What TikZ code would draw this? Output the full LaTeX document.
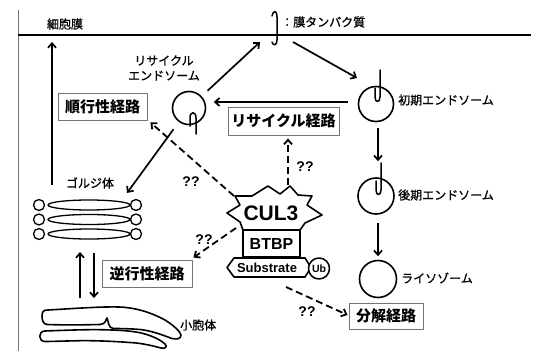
\documentclass[tikz,border=0pt]{standalone}
\usepackage{fontspec}
\newfontfamily\jp{Noto Sans CJK JP}
\newfontfamily\jpm[FakeBold=1]{Noto Sans CJK JP}
\newfontfamily\lat{Liberation Sans}
\usetikzlibrary{arrows.meta}
\begin{document}
\begin{tikzpicture}[x=1pt,y=-1pt,line join=round,
  arr/.style={line width=1.7pt,-{Straight Barb[length=4.5pt,width=8pt]}},
  darr/.style={arr,line width=1.8pt,dash pattern=on 7pt off 4pt},
  organelle/.style={circle,draw,line width=1.6pt,inner sep=0pt},
  prot/.style={line width=1.5pt,line cap=round},
  outline/.style={line width=1.6pt},
  pathbox/.style={draw=black!55,line width=0.9pt,fill=white,inner sep=0pt,
    font=\jp\bfseries\fontsize{15}{15}\selectfont},
  lbl/.style={font=\jpm\fontsize{12}{15}\selectfont,inner sep=0pt},
  qq/.style={font=\lat\bfseries\fontsize{14}{14}\selectfont,inner sep=0pt},
  latin/.style={font=\lat\bfseries\fontsize{#1}{#1}\selectfont,inner sep=0pt},
]
\useasboundingbox (0,0) rectangle (536,351);

% cell membrane
\draw[black!55,line width=0.6pt] (18,10) -- (18,351);
\draw[line width=1.7pt] (18,35) -- (531,35);
\node[lbl] (pm) at (65,24) {細胞膜};

% membrane protein and legend
\draw[prot] (272,16) .. controls (273,10) and (277,10) .. (277,17) -- (277,40)
  .. controls (277,46) and (273,46) .. (272,42);
\node[lbl,anchor=west] (mpl) at (281,22) {：膜タンパク質};

% endosomes and lysosome
\node[organelle,minimum size=33pt] (re) at (189,108) {};
\node[organelle,minimum size=35pt] (ee) at (376,104) {};
\node[organelle,minimum size=36pt] (le) at (376,196) {};
\node[organelle,minimum size=37pt] (ly) at (378,279) {};

\draw[prot] (196,134) -- (196,118) .. controls (196,111) and (190,111) .. (190,118) -- (190,126);
\draw[prot] (380,70) -- (380,97) .. controls (380,103) and (375,103) .. (375,97) -- (375,88);
\draw[prot] (381,163) -- (381,190) .. controls (381,196) and (376,196) .. (376,190) -- (376,181);

\node[lbl,align=center] (rel) at (164,68) {リサイクル\\エンドソーム};
\node[lbl,anchor=west] (eel) at (398,100) {初期エンドソーム};
\node[lbl,anchor=west] (lel) at (398,195) {後期エンドソーム};
\node[lbl,anchor=west] (lyl) at (401,278) {ライソゾーム};

% Golgi stack
\foreach \yy in {205,219.5,234}{
  \draw[line width=1.3pt] (89,\yy) ellipse [x radius=41pt,y radius=5pt];
  \draw[line width=1.3pt] (39,\yy) circle [radius=5.5pt];
  \draw[line width=1.3pt] (136,\yy) circle [radius=5.5pt];
}
\node[lbl] (gol) at (90,183) {ゴルジ体};

% endoplasmic reticulum: upper cisterna split by a slit, lower cisterna whole
\draw[outline] (42,316) .. controls (42,311) and (44,310) .. (48,310)
  .. controls (75,308.5) and (100,306.5) .. (119,307)
  .. controls (135,307.5) and (150,312) .. (165,320)
  .. controls (173,325) and (180,331) .. (181,335)
  .. controls (181,339) and (177,339.5) .. (172,338.5)
  .. controls (160,334) and (150,330.5) .. (140,329.5)
  .. controls (128,328.5) and (118,328.5) .. (113,328.5)
  .. controls (108,328.5) and (108,318.5) .. (107,318)
  .. controls (106,318.5) and (106,324.5) .. (100,324.5)
  .. controls (80,325) and (60,325) .. (47,324.5)
  .. controls (43,324) and (42,320) .. (42,316) -- cycle;
\draw[outline] (45,331) .. controls (70,330) and (90,329.5) .. (100,329.7)
  .. controls (120,330) and (135,331) .. (145,334)
  .. controls (155,337) and (162,341) .. (165,344)
  .. controls (168,347) and (165,349) .. (161,348)
  .. controls (150,345) and (140,343) .. (130,342.5)
  .. controls (110,341) and (90,340.5) .. (80,340.7)
  .. controls (65,341) and (50,341.5) .. (45,341.5)
  .. controls (38,341.5) and (38,331) .. (45,331) -- cycle;
\node[lbl,anchor=west] (erl) at (180,325) {小胞体};

% pathway boxes
\node[pathbox,minimum width=89pt,minimum height=27pt] (ant) at (102.5,106.5) {順行性経路};
\node[pathbox,minimum width=111pt,minimum height=28pt] (rec) at (283.5,121) {リサイクル経路};
\node[pathbox,minimum width=90pt,minimum height=27pt] (ret) at (147,273.5) {逆行性経路};
\node[pathbox,minimum width=74pt,minimum height=26pt] (deg) at (386,316) {分解経路};

% CUL3 complex
\draw[outline,fill=white] (227,213) -- (240,205) -- (235,196) -- (252,196) -- (268,186)
  -- (280,194) -- (290,186) -- (298,195) -- (312,196) -- (307,205) -- (322,215)
  -- (305,223) -- (300,230) -- (243,230) -- (240,222) -- cycle;
\node[latin=21] (cul) at (271,213) {CUL3};
\node[draw,outline,fill=white,minimum width=57pt,minimum height=27pt,latin=16] (btbp) at (271.5,243.5) {BTBP};
\draw[outline,fill=white] (227,267.5) -- (234,258) -- (305,258) -- (311,267.5) -- (305,277) -- (234,277) -- cycle;
\node[latin=13] (sub) at (267,267.5) {Substrate};
\node[circle,draw,line width=1.5pt,fill=white,minimum size=21pt,latin=10.5] (ub) at (319,268.5) {Ub};

% trafficking arrows
\coordinate (golL) at (52,185);
\coordinate (pmL) at (52,42);
\coordinate (pmR) at (260,42);
\coordinate (pmE) at (293,42);
\coordinate (eeTop) at (357,78);
\coordinate (golTR) at (127,193);
\draw[arr] (golL) -- (pmL);
\draw[arr,shorten <=8pt] (re) -- (pmR);
\draw[arr] (pmE) -- (eeTop);
\draw[arr] ([xshift=-10pt,yshift=2pt]ee.west) -- ([xshift=7.5pt,yshift=2pt]ee.west -| re.east);
\draw[arr,shorten <=5.5pt,shorten >=16pt] ([xshift=2pt]ee.south) -- ([xshift=2pt]le.north);
\draw[arr,shorten <=8pt,shorten >=3.5pt] (le.south -| ly.north) -- (ly.north);
\draw[arr,shorten <=9pt] (re) -- (golTR);

\coordinate (erU) at (80,298);
\coordinate (golU) at (80,252);
\coordinate (golD) at (94,253);
\coordinate (erD) at (94,298);
\draw[arr] (erU) -- (golU);
\draw[arr] (golD) -- (erD);

% CUL3-dependent routes
\coordinate (starTL) at (234,196);
\coordinate (starTop) at (288,185);
\coordinate (starBL) at (236,228);
\coordinate (subB) at (286,287);
\draw[darr] (starTL) -- ([shift={(3pt,-2pt)}]ant.south east);
\draw[darr] (starTop) -- ([yshift=-3pt]rec.south -| starTop);
\draw[darr] (starBL) -- ([shift={(1pt,2pt)}]ret.north east);
\draw[darr] (subB) -- ([shift={(-1pt,1pt)}]deg.west);

\node[qq] (q1) at (191,182) {??};
\node[qq] (q2) at (305,167) {??};
\node[qq] (q3) at (204,240) {??};
\node[qq] (q4) at (307,312) {??};
\end{tikzpicture}
\end{document}
